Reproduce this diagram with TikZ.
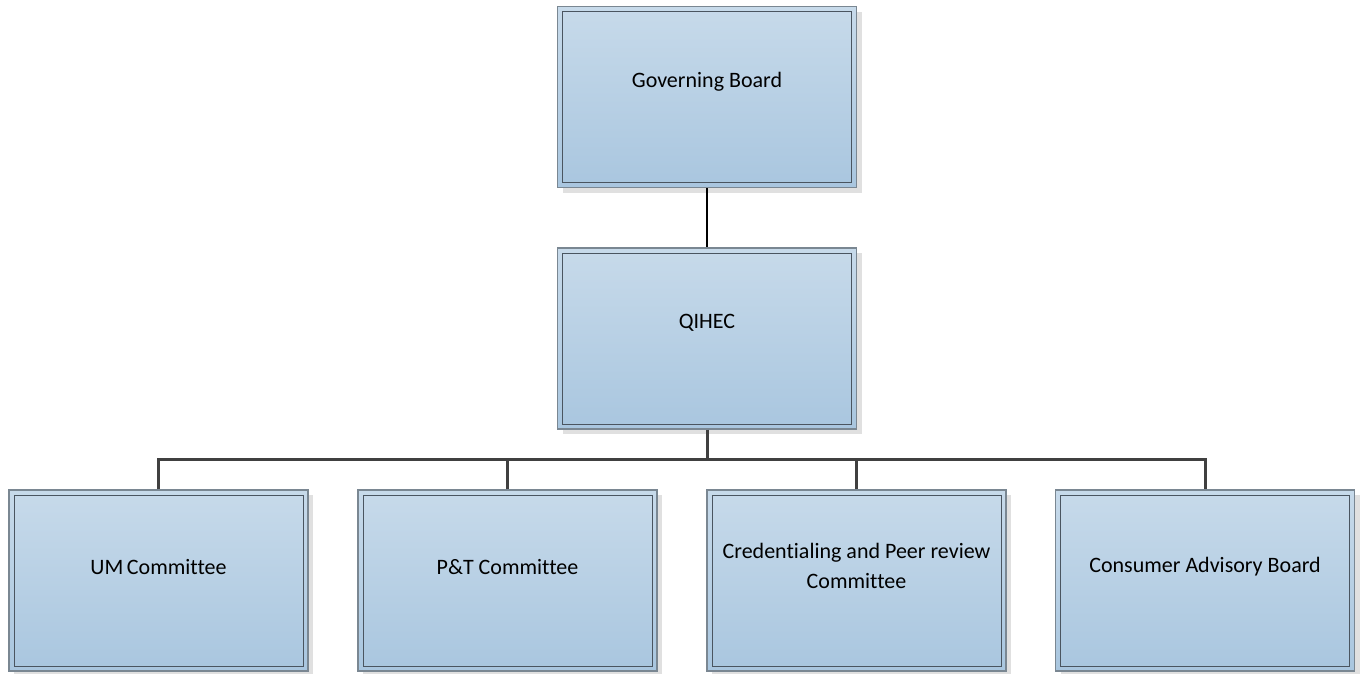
\documentclass[tikz,border=0pt]{standalone}
\usepackage{fontspec}
\setmainfont[Ligatures=NoCommon]{Carlito}
\usetikzlibrary{shadows}
\definecolor{boxtop}{HTML}{C7DAEA}
\definecolor{boxbot}{HTML}{A9C6DF}
\definecolor{outerline}{HTML}{7A8792}
\definecolor{innerline}{HTML}{4A5560}
\definecolor{busgray}{HTML}{404040}
\tikzset{
  orgbox/.style={
    rectangle, minimum width=299pt, minimum height=181pt, inner sep=0pt,
    top color=boxtop, bottom color=boxbot, draw=outerline, line width=1.2pt,
    drop shadow={shadow xshift=5pt, shadow yshift=-5pt, fill=black!12, opacity=1},
    path picture={\draw[innerline, line width=1pt]
      ([shift={(5pt,-5pt)}]path picture bounding box.north west) rectangle
      ([shift={(-5pt,5pt)}]path picture bounding box.south east);}
  },
  orglabel/.style={font=\fontsize{22pt}{30pt}\selectfont, align=center, text=black},
  topline/.style={line width=2pt, draw=black},
  busline/.style={line width=3pt, draw=busgray}
}
\begin{document}
\begin{tikzpicture}[x=1pt, y=-1pt]
\useasboundingbox (0,0) rectangle (1364,673);
\node[orgbox] (gb) at (707,97) {};
\node[orgbox] (q) at (707,338.5) {};
\node[orgbox] (um) at (158.5,580.5) {};
\node[orgbox] (pt) at (507.5,580.5) {};
\node[orgbox] (cr) at (856.5,580.5) {};
\node[orgbox] (cab) at (1205,580.5) {};
\node[orglabel] (gbt) at ([yshift=15pt]gb.center) {Governing Board};
\node[orglabel] (qt) at ([yshift=16pt]q.center) {QIHEC};
\node[orglabel] (umt) at ([yshift=14pt]um.center) {UM\,Committee};
\node[orglabel] (ptt) at ([yshift=14pt]pt.center) {P\&T Committee};
\node[orglabel] (crt) at ([yshift=15pt]cr.center) {Credentialing and Peer review\\Committee};
\node[orglabel] (cabt) at ([yshift=14pt]cab.center) {Consumer Advisory Board};
\coordinate (bus) at (0,459);
\draw[topline] (gb.south) -- (q.north);
\draw[busline] (q.south) -- (q.south |- bus);
\draw[busline] (um.north) -- (um.north |- bus) -- (cab.north |- bus) -- (cab.north);
\draw[busline] (pt.north) -- (pt.north |- bus);
\draw[busline] (cr.north) -- (cr.north |- bus);
\end{tikzpicture}
\end{document}
